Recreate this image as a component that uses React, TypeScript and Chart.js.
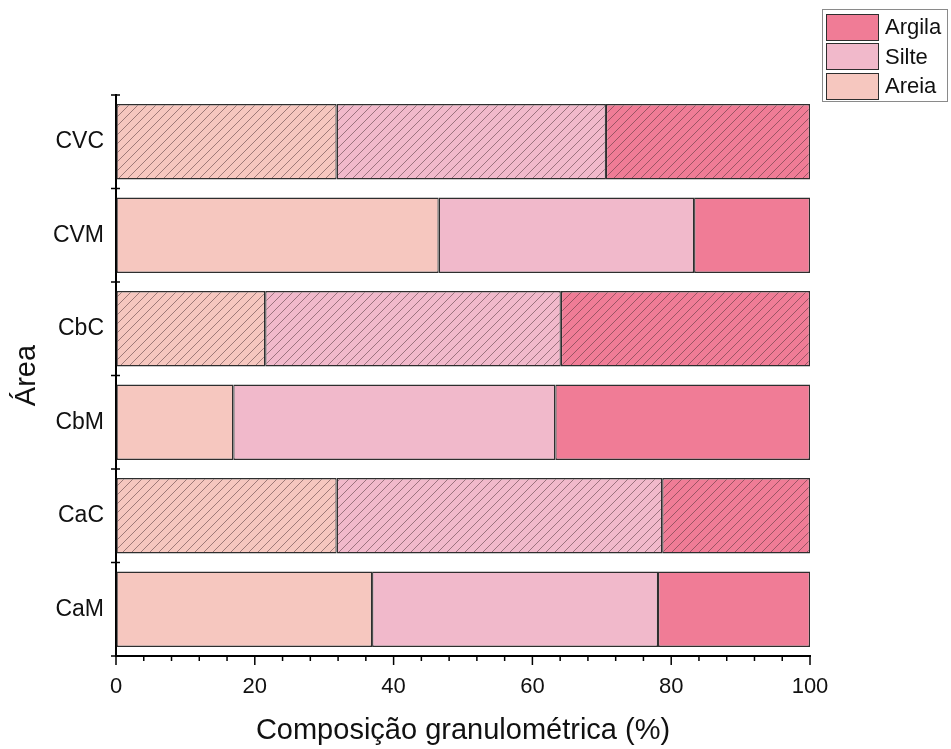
import React, { useEffect, useRef } from "react";
import { Chart, registerables } from "chart.js";

Chart.register(...registerables);

const categories = ["CVC", "CVM", "CbC", "CbM", "CaC", "CaM"];
const areia = [31.8, 46.5, 21.5, 16.9, 31.8, 36.9];
const silte = [38.8, 36.8, 42.6, 46.4, 46.9, 41.2];
const argila = [29.4, 16.7, 35.9, 36.7, 21.3, 21.9];
const hatched = [true, false, true, false, true, false];
const seriesNames = ["Areia", "Silte", "Argila"];
const seriesColors = ["#F6C7BF", "#F1B9CB", "#F07C96"];
const xTicks = [0, 20, 40, 60, 80, 100];
const minorStep = 4;

function makePattern(color: string): CanvasPattern | string {
  const c = document.createElement("canvas");
  const s = 9;
  c.width = s;
  c.height = s;
  const g = c.getContext("2d");
  if (!g) return color;
  g.fillStyle = color;
  g.fillRect(0, 0, s, s);
  g.strokeStyle = "rgba(70,45,50,0.5)";
  g.lineWidth = 1;
  g.beginPath();
  g.moveTo(-1, s + 1);
  g.lineTo(s + 1, -1);
  g.moveTo(-1, 1);
  g.lineTo(1, -1);
  g.moveTo(s - 1, s + 1);
  g.lineTo(s + 1, s - 1);
  g.stroke();
  const p = g.createPattern(c, "repeat");
  return p || color;
}

const tickPlugin = {
  id: "customTicks",
  afterDraw(chart: any) {
    const ctx = chart.ctx;
    const xs = chart.scales.x;
    const ys = chart.scales.y;
    const area = chart.chartArea;
    ctx.save();
    ctx.strokeStyle = "#000";
    ctx.lineWidth = 1.5;
    for (let v = 0; v <= 100; v += minorStep) {
      const px = xs.getPixelForValue(v);
      const len = v % 20 === 0 ? 9 : 5;
      ctx.beginPath();
      ctx.moveTo(px, area.bottom);
      ctx.lineTo(px, area.bottom + len);
      ctx.stroke();
    }
    for (let i = 0; i <= categories.length; i++) {
      const py = ys.getPixelForValue(i - 0.5);
      ctx.beginPath();
      ctx.moveTo(area.left - 5, py);
      ctx.lineTo(area.left + 4, py);
      ctx.stroke();
    }
    ctx.restore();
  },
};

export default function App() {
  const ref = useRef<HTMLCanvasElement | null>(null);

  useEffect(() => {
    if (!ref.current) return;
    const seriesData = [areia, silte, argila];
    const datasets = seriesData.map((d, si) => {
      const pat = makePattern(seriesColors[si]);
      return {
        label: seriesNames[si],
        data: d,
        backgroundColor: categories.map((_, i) => (hatched[i] ? pat : seriesColors[si])),
        borderColor: "#2e2e2e",
        borderWidth: 1.3,
        borderSkipped: false,
        categoryPercentage: 0.805,
        barPercentage: 1,
      };
    });
    const chart = new Chart(ref.current, {
      type: "bar",
      data: { labels: categories, datasets: datasets as any },
      plugins: [tickPlugin],
      options: {
        indexAxis: "y",
        animation: false,
        responsive: false,
        maintainAspectRatio: false,
        layout: { padding: { top: 95, right: 141, left: 0, bottom: 0 } },
        plugins: { legend: { display: false }, tooltip: { enabled: false } },
        scales: {
          x: {
            stacked: true,
            min: 0,
            max: 100,
            afterBuildTicks: (scale: any) => {
              scale.ticks = xTicks.map((v) => ({ value: v }));
            },
            afterFit: (scale: any) => {
              scale.height = 93;
            },
            grid: { display: true, drawOnChartArea: false, drawTicks: false },
            border: { display: true, color: "#000", width: 2 },
            ticks: {
              padding: 18,
              color: "#111",
              font: { family: "Liberation Sans, Arial", size: 22 },
            },
            title: {
              display: true,
              text: "Composição granulométrica (%)",
              color: "#111",
              font: { family: "Liberation Sans, Arial", size: 29 },
              padding: { top: 0, bottom: 1 },
            },
          },
          y: {
            stacked: true,
            afterFit: (scale: any) => {
              scale.width = 116;
            },
            grid: { display: true, drawOnChartArea: false, drawTicks: false },
            border: { display: true, color: "#000", width: 2 },
            ticks: {
              padding: 12,
              color: "#111",
              font: { family: "Liberation Sans, Arial", size: 23 },
            },
            title: {
              display: true,
              text: "Área",
              color: "#111",
              font: { family: "Liberation Sans, Arial", size: 29 },
              padding: { top: 10, bottom: 0 },
            },
          },
        },
      },
    });
    return () => chart.destroy();
  }, []);

  const legendItems = [2, 1, 0];
  return (
    <div style={{ position: "absolute", left: 0, top: 0, width: 951, height: 749, background: "#fff" }}>
      <canvas ref={ref} width={951} height={749} style={{ display: "block" }} />
      <div
        style={{
          position: "absolute",
          left: 822,
          top: 9,
          width: 126,
          height: 93,
          border: "1px solid #8a8a8a",
          boxSizing: "border-box",
          fontFamily: "Liberation Sans, Arial",
          fontSize: 22,
          color: "#111",
        }}
      >
        {legendItems.map((si, k) => (
          <div
            key={si}
            style={{ position: "absolute", left: 3, top: 3 + k * 29.5, height: 28, display: "flex", alignItems: "center" }}
          >
            <div
              style={{
                width: 53,
                height: 27,
                background: seriesColors[si],
                border: "1px solid #2e2e2e",
                boxSizing: "border-box",
                flexShrink: 0,
              }}
            />
            <span style={{ marginLeft: 6 }}>{seriesNames[si]}</span>
          </div>
        ))}
      </div>
    </div>
  );
}
